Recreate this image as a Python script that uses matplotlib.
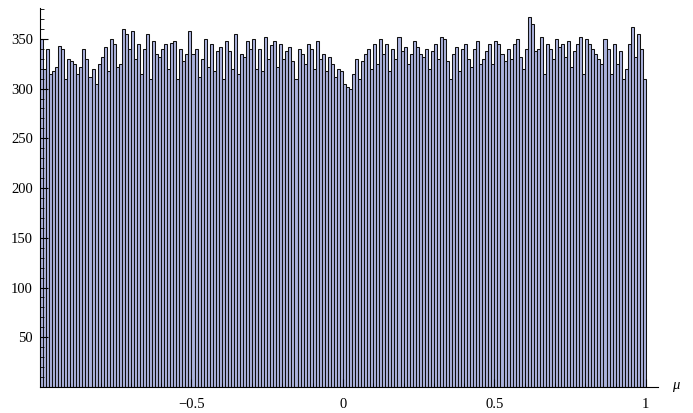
import numpy as np
import matplotlib.pyplot as plt
from matplotlib.ticker import MultipleLocator, FixedLocator

# bin edges: 200 bins of width 0.01 from -1 to 1
bin_start = -1.0
bin_width = 0.01

counts = [
    350, 320, 340, 315, 318, 322, 343, 340, 310, 330,
    328, 325, 315, 322, 340, 330, 312, 320, 305, 325,
    332, 342, 318, 350, 345, 322, 325, 360, 355, 340,
    358, 330, 345, 315, 340, 355, 310, 348, 335, 332,
    340, 345, 320, 346, 348, 310, 340, 328, 335, 358,
    335, 340, 312, 330, 350, 322, 345, 318, 338, 342,
    310, 348, 338, 320, 355, 315, 335, 332, 348, 340,
    350, 320, 340, 318, 352, 330, 344, 348, 322, 345,
    330, 338, 342, 328, 310, 340, 335, 325, 345, 340,
    320, 348, 330, 335, 318, 332, 325, 312, 320, 318,
    305, 302, 300, 315, 330, 310, 328, 335, 340, 320,
    345, 325, 350, 335, 345, 318, 340, 330, 352, 338,
    342, 325, 335, 348, 342, 335, 332, 340, 320, 338,
    345, 330, 352, 350, 328, 310, 335, 342, 318, 340,
    345, 330, 322, 340, 348, 325, 330, 338, 345, 325,
    348, 345, 335, 328, 340, 330, 345, 350, 332, 320,
    340, 372, 365, 338, 340, 352, 315, 345, 340, 330,
    350, 342, 345, 332, 348, 322, 338, 345, 352, 315,
    350, 345, 340, 335, 330, 325, 350, 340, 315, 345,
    325, 338, 310, 320, 345, 362, 332, 355, 340, 310,
]

xticks = [-0.5, 0, 0.5, 1]
xtick_labels = ["\u22120.5", "0", "0.5", "1"]
yticks = [50, 100, 150, 200, 250, 300, 350]

edges = bin_start + bin_width * np.arange(len(counts))

fig = plt.figure(figsize=(6.93, 4.13), dpi=100)
ax = fig.add_axes([40 / 693, 26 / 413, 618 / 693, 379 / 413])

ax.bar(edges, counts, width=bin_width, align="edge",
       facecolor="#aab2dc", edgecolor="#111111", linewidth=0.75)

ax.set_xlim(-1, 1.04)
ax.set_ylim(0, 381)

for s in ["top", "right"]:
    ax.spines[s].set_visible(False)
for s in ["left", "bottom"]:
    ax.spines[s].set_linewidth(0.8)

ax.xaxis.set_major_locator(FixedLocator(xticks))
ax.set_xticklabels(xtick_labels)
ax.xaxis.set_minor_locator(MultipleLocator(0.1))
ax.yaxis.set_major_locator(FixedLocator(yticks))
ax.yaxis.set_minor_locator(MultipleLocator(10))

font = {"family": "Liberation Serif", "size": 10.5}
for lab in ax.get_xticklabels() + ax.get_yticklabels():
    lab.set_fontfamily("Liberation Serif")
    lab.set_fontsize(10.5)

ax.tick_params(which="major", direction="in", length=6, width=0.8)
ax.tick_params(axis="x", which="major", pad=8)
ax.tick_params(axis="y", which="major", pad=5)
ax.tick_params(which="minor", direction="in", length=3, width=0.6)

fig.text(676 / 693, 1 - 386 / 413, "\u03bc", fontdict=font, style="italic",
         ha="center", va="center")

fig.savefig("out.png", dpi=100)
